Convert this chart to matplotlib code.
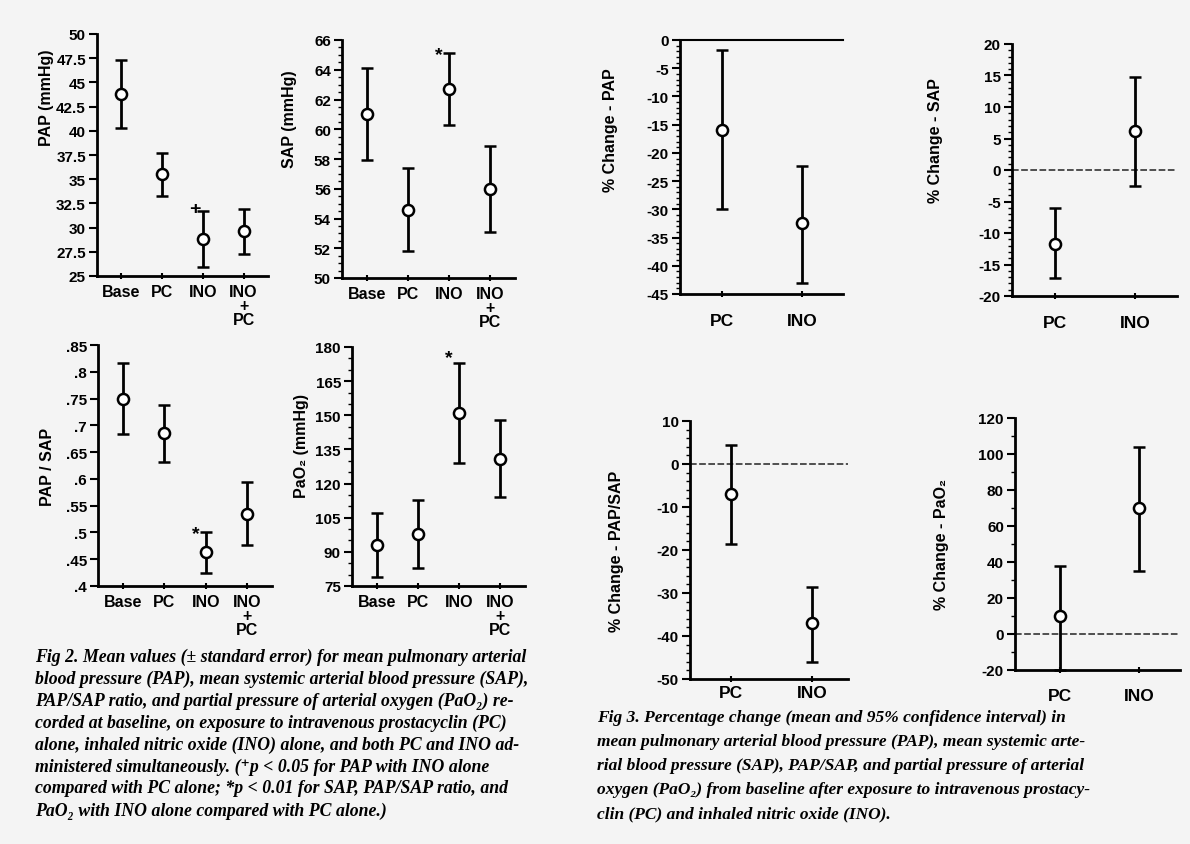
import matplotlib
matplotlib.use("Agg")
import matplotlib.pyplot as plt
from matplotlib.ticker import MultipleLocator

plt.rcParams['font.family'] = ['Liberation Sans', 'DejaVu Sans']
plt.rcParams['font.weight'] = 'bold'
plt.rcParams['axes.labelweight'] = 'bold'
plt.rcParams['axes.unicode_minus'] = False

# Fig 2 - mean values (+/- standard error)
groups4 = ['Base', 'PC', 'INO', 'INO\n+\nPC']
pap_mean = [43.8, 35.5, 28.8, 29.6]
pap_err = [3.5, 2.2, 2.9, 2.3]
sap_mean = [61.0, 54.6, 62.7, 56.0]
sap_err = [3.1, 2.8, 2.4, 2.9]
ratio_mean = [0.750, 0.685, 0.463, 0.535]
ratio_err = [0.067, 0.053, 0.038, 0.059]
pao2_mean = [93, 98, 151, 131]
pao2_err = [14, 15, 22, 17]

# Fig 3 - percentage change (mean and 95% CI)
groups2 = ['PC', 'INO']
pct_pap_mean = [-16.0, -32.5]
pct_pap_lo = [-30.0, -43.0]
pct_pap_hi = [-1.8, -22.3]
pct_sap_mean = [-11.8, 6.2]
pct_sap_lo = [-17.2, -2.5]
pct_sap_hi = [-6.0, 14.8]
pct_ratio_mean = [-7.0, -37.0]
pct_ratio_lo = [-18.5, -46.0]
pct_ratio_hi = [4.5, -28.5]
pct_pao2_mean = [10.0, 70.0]
pct_pao2_lo = [-20.0, 35.0]
pct_pao2_hi = [38.0, 104.0]

pap_ticks = [25, 27.5, 30, 32.5, 35, 37.5, 40, 42.5, 45, 47.5, 50]
ratio_ticks = [0.4, 0.45, 0.5, 0.55, 0.6, 0.65, 0.7, 0.75, 0.8, 0.85]
ratio_labels = ['.4', '.45', '.5', '.55', '.6', '.65', '.7', '.75', '.8', '.85']

cap2 = ["Fig 2. Mean values (\u00b1 standard error) for mean pulmonary arterial",
        "blood pressure (PAP), mean systemic arterial blood pressure (SAP),",
        "PAP/SAP ratio, and partial pressure of arterial oxygen (PaO\u2082) re-",
        "corded at baseline, on exposure to intravenous prostacyclin (PC)",
        "alone, inhaled nitric oxide (INO) alone, and both PC and INO ad-",
        "ministered simultaneously. (\u207ap < 0.05 for PAP with INO alone",
        "compared with PC alone; *p < 0.01 for SAP, PAP/SAP ratio, and",
        "PaO\u2082 with INO alone compared with PC alone.)"]
cap3 = ["Fig 3. Percentage change (mean and 95% confidence interval) in",
        "mean pulmonary arterial blood pressure (PAP), mean systemic arte-",
        "rial blood pressure (SAP), PAP/SAP, and partial pressure of arterial",
        "oxygen (PaO\u2082) from baseline after exposure to intravenous prostacy-",
        "clin (PC) and inhaled nitric oxide (INO)."]

W, H = 1190, 845
bg = '#f4f4f4'
fig = plt.figure(figsize=(W / 100, H / 100), dpi=100, facecolor=bg)


def panel(x0, x1, y0, y1):
    ax = fig.add_axes([x0 / W, 1 - y1 / H, (x1 - x0) / W, (y1 - y0) / H])
    ax.set_facecolor(bg)
    for s in ['top', 'right']:
        ax.spines[s].set_visible(False)
    for s in ['left', 'bottom']:
        ax.spines[s].set_linewidth(2)
    ax.tick_params(axis='y', which='major', length=6, width=1.5, labelsize=11, pad=2)
    ax.tick_params(axis='y', which='minor', length=3, width=1)
    ax.tick_params(axis='x', length=4, width=1.5, labelsize=11.5, direction='inout')
    return ax


def dots(ax, x, y, lo, hi):
    ax.errorbar(x, y, yerr=[lo, hi], fmt='o', color='black', ecolor='black',
                elinewidth=2, capsize=4, capthick=1.8, ms=8, mfc='white',
                mec='black', mew=1.8, clip_on=False, zorder=3)


x4 = list(range(len(groups4)))
x2 = [1, 2]

# --- Fig 2 ---
ax = panel(97, 268, 35, 277)
dots(ax, x4, pap_mean, pap_err, pap_err)
ax.set_ylim(25, 50)
ax.set_yticks(pap_ticks)
ax.set_yticklabels([f'{t:g}' for t in pap_ticks])
ax.text(2 - 0.2, 32.0, '+', ha='center', va='center', fontsize=14)
ax.set_ylabel('PAP (mmHg)', fontsize=11.5)
ax.yaxis.set_label_coords(-0.25, 0.74)

ax = panel(342, 515, 41, 279)
dots(ax, x4, sap_mean, sap_err, sap_err)
ax.set_ylim(50, 66)
ax.yaxis.set_major_locator(MultipleLocator(2))
ax.yaxis.set_minor_locator(MultipleLocator(0.5))
ax.text(2 - 0.25, 65.0, '*', ha='center', va='center', fontsize=14)
ax.set_ylabel('SAP (mmHg)', fontsize=11.5)
ax.yaxis.set_label_coords(-0.26, 0.67)

ax = panel(98, 272, 346, 587)
dots(ax, x4, ratio_mean, ratio_err, ratio_err)
ax.set_ylim(0.4, 0.85)
ax.set_yticks(ratio_ticks)
ax.set_yticklabels(ratio_labels)
ax.text(2 - 0.25, 0.497, '*', ha='center', va='center', fontsize=14)
ax.set_ylabel('PAP / SAP', fontsize=11.5)
ax.yaxis.set_label_coords(-0.25, 0.5)

ax = panel(352, 525, 348, 587)
dots(ax, x4, pao2_mean, pao2_err, pao2_err)
ax.set_ylim(75, 180)
ax.yaxis.set_major_locator(MultipleLocator(15))
ax.yaxis.set_minor_locator(MultipleLocator(5))
ax.text(2 - 0.25, 175.5, '*', ha='center', va='center', fontsize=14)
ax.set_ylabel('PaO\u2082 (mmHg)', fontsize=11.5)
ax.yaxis.set_label_coords(-0.25, 0.59)

for a in fig.axes:
    a.set_xlim(-0.6, 3.6)
    a.set_xticks(x4)
    a.set_xticklabels(groups4, linespacing=0.95, va='top')

# --- Fig 3 ---
ax = panel(680, 843, 41, 295)
dots(ax, x2, pct_pap_mean,
     [m - l for m, l in zip(pct_pap_mean, pct_pap_lo)],
     [h - m for m, h in zip(pct_pap_mean, pct_pap_hi)])
ax.set_ylim(-45, 0)
ax.set_xlim(0.47, 2.51)
ax.yaxis.set_major_locator(MultipleLocator(5))
ax.yaxis.set_minor_locator(MultipleLocator(1))
ax.axhline(0, color='black', lw=1.5, clip_on=False)
ax.set_ylabel('% Change - PAP', fontsize=11.5)
ax.yaxis.set_label_coords(-0.38, 0.65)
ax.tick_params(axis='x', pad=12)
f3 = [ax]

ax = panel(1012, 1177, 45, 297)
dots(ax, x2, pct_sap_mean,
     [m - l for m, l in zip(pct_sap_mean, pct_sap_lo)],
     [h - m for m, h in zip(pct_sap_mean, pct_sap_hi)])
ax.set_ylim(-20, 20)
ax.set_xlim(0.46, 2.52)
ax.yaxis.set_major_locator(MultipleLocator(5))
ax.yaxis.set_minor_locator(MultipleLocator(1))
ax.axhline(0, color='#333333', lw=1.2, ls=(0, (4, 1.5)))
ax.set_ylabel('% Change - SAP', fontsize=11.5)
ax.yaxis.set_label_coords(-0.42, 0.62)
ax.tick_params(axis='x', pad=12)
f3.append(ax)

ax = panel(690, 848, 422, 680)
dots(ax, x2, pct_ratio_mean,
     [m - l for m, l in zip(pct_ratio_mean, pct_ratio_lo)],
     [h - m for m, h in zip(pct_ratio_mean, pct_ratio_hi)])
ax.set_ylim(-50, 10)
ax.set_xlim(0.49, 2.44)
ax.yaxis.set_major_locator(MultipleLocator(10))
ax.yaxis.set_minor_locator(MultipleLocator(2))
ax.axhline(0, color='#333333', lw=1.2, ls=(0, (4, 1.5)))
ax.set_ylabel('% Change - PAP/SAP', fontsize=11.5)
ax.yaxis.set_label_coords(-0.42, 0.5)
ax.tick_params(axis='x', pad=2)
f3.append(ax)

ax = panel(1015, 1180, 419, 671)
dots(ax, x2, pct_pao2_mean,
     [m - l for m, l in zip(pct_pao2_mean, pct_pao2_lo)],
     [h - m for m, h in zip(pct_pao2_mean, pct_pao2_hi)])
ax.set_ylim(-20, 120)
ax.set_xlim(0.43, 2.52)
ax.yaxis.set_major_locator(MultipleLocator(20))
ax.yaxis.set_minor_locator(MultipleLocator(10))
ax.axhline(0, color='#333333', lw=1.2, ls=(0, (4, 1.5)))
ax.set_ylabel('% Change - PaO\u2082', fontsize=11.5)
ax.yaxis.set_label_coords(-0.40, 0.5)
ax.tick_params(axis='x', pad=11)
f3.append(ax)

for a in f3:
    a.set_xticks(x2)
    a.set_xticklabels(groups2, fontsize=12.5)

for a in fig.axes:
    for lab in a.get_xticklabels() + a.get_yticklabels():
        lab.set_fontweight('bold')

# captions
serif = ['Liberation Serif', 'DejaVu Serif']
for i, line in enumerate(cap2):
    fig.text(35 / W, 1 - (657 + i * 22) / H, line, family=serif,
             style='italic', weight='bold', fontsize=12.8, va='center', ha='left')
for i, line in enumerate(cap3):
    fig.text(597 / W, 1 - (718 + i * 24) / H, line, family=serif,
             style='italic', weight='bold', fontsize=12.5, va='center', ha='left')

fig.savefig('out.png', dpi=100, facecolor=bg)
